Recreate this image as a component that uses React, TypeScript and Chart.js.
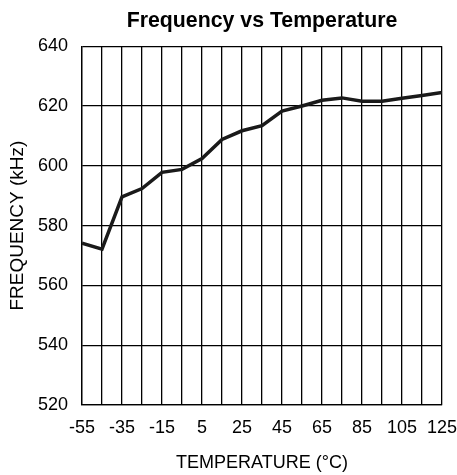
import React, { useEffect, useRef } from "react";
import { Chart, registerables } from "chart.js";

Chart.register(...registerables);

const temps = [-55, -45, -35, -25, -15, -5, 5, 15, 25, 35, 45, 55, 65, 75, 85, 95, 105, 115, 125];
const freqs = [574.1, 572.1, 589.6, 592.4, 597.8, 598.8, 602.4, 608.8, 611.7, 613.4, 618.3, 620.0, 621.9, 622.7, 621.6, 621.6, 622.6, 623.5, 624.5];
const xLabels = [-55, -35, -15, 5, 25, 45, 65, 85, 105, 125];
const yMin = 520;
const yMax = 640;
const yStep = 20;

const FONT = "'Liberation Sans', Arial, sans-serif";

export default function App() {
  const ref = useRef<HTMLCanvasElement | null>(null);

  useEffect(() => {
    document.body.style.margin = "0";
    const canvas = ref.current;
    if (!canvas) return;
    Chart.defaults.font.family = FONT;
    Chart.defaults.color = "#000";
    const chart = new Chart(canvas, {
      type: "line",
      data: {
        datasets: [
          {
            data: temps.map((t, i) => ({ x: t, y: freqs[i] })),
            borderColor: "#1a1a1a",
            borderWidth: 3.5,
            pointRadius: 0,
            tension: 0,
            fill: false,
          },
        ],
      },
      options: {
        animation: false,
        responsive: false,
        maintainAspectRatio: false,
        layout: { padding: { left: 0, right: 0, top: 0, bottom: 0 } },
        plugins: {
          legend: { display: false },
          tooltip: { enabled: false },
          title: {
            display: true,
            fullSize: false,
            text: "Frequency vs Temperature",
            color: "#000",
            font: { size: 21.3, weight: "bold", family: FONT },
            padding: { top: 8, bottom: 12.6 },
          },
        },
        scales: {
          x: {
            type: "linear",
            min: -55,
            max: 125,
            afterBuildTicks: (scale: any) => {
              scale.ticks = temps.map((v) => ({ value: v }));
            },
            afterFit: (scale: any) => {
              scale.height = 70;
              scale.paddingRight = 15;
              scale.paddingLeft = 0;
            },
            grid: { color: "#000", lineWidth: 1.3, drawTicks: false },
            border: { color: "#000", width: 1.3 },
            ticks: {
              autoSkip: false,
              maxRotation: 0,
              padding: 12.5,
              color: "#000",
              font: { size: 18, family: FONT },
              callback: (v: any) => (xLabels.includes(Number(v)) ? String(v) : ""),
            },
            title: {
              display: true,
              text: "TEMPERATURE (°C)",
              color: "#000",
              font: { size: 18, family: FONT },
              padding: { top: 0, bottom: 1 },
            },
          },
          y: {
            min: yMin,
            max: yMax,
            afterFit: (scale: any) => {
              scale.width = 82;
            },
            grid: { color: "#000", lineWidth: 1.3, drawTicks: false },
            border: { color: "#000", width: 1.3 },
            ticks: {
              stepSize: yStep,
              padding: 14,
              color: "#000",
              font: { size: 18, family: FONT },
            },
            title: {
              display: true,
              text: "FREQUENCY (kHz)",
              color: "#000",
              font: { size: 19, family: FONT },
              padding: { top: 6.5, bottom: 0 },
            },
          },
        },
      },
    });
    return () => chart.destroy();
  }, []);

  return (
    <div style={{ width: 457, height: 475 }}>
      <canvas ref={ref} width={457} height={475} style={{ width: 457, height: 475, display: "block" }} />
    </div>
  );
}
